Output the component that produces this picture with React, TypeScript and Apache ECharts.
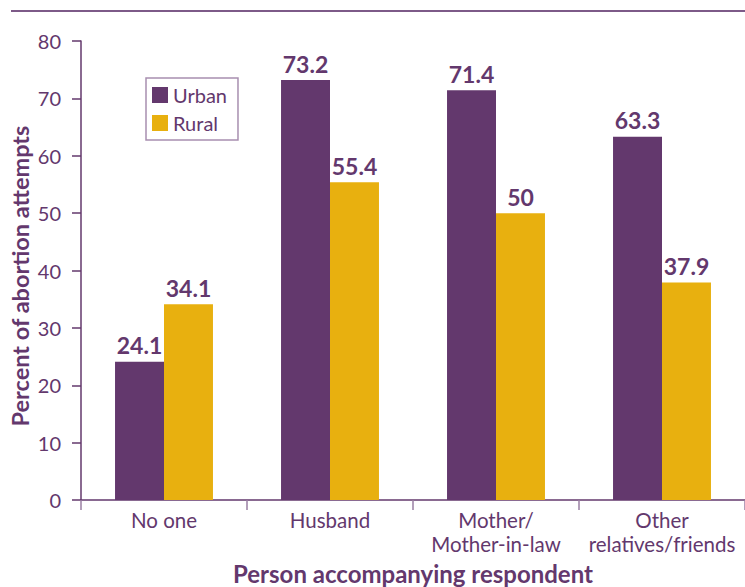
import React, { useEffect, useRef } from "react";
import * as echarts from "echarts";

const categories = ["No one", "Husband", "Mother/\nMother-in-law", "Other\nrelatives/friends"];
const urban = [24.1, 73.2, 71.4, 63.3];
const rural = [34.1, 55.4, 50, 37.9];
const yTicks = [0, 10, 20, 30, 40, 50, 60, 70, 80];
const yTitle = "Percent of abortion attempts";
const xTitle = "Person accompanying respondent";

const PURPLE = "#63386d";
const GOLD = "#e8b00f";
const FONT = "Lato";

export default function App() {
  const ref = useRef<HTMLDivElement>(null);
  useEffect(() => {
    const chart = echarts.init(ref.current!, null, { renderer: "svg" });
    const labelStyle = {
      show: true,
      position: "top" as const,
      color: PURPLE,
      fontFamily: FONT,
      fontWeight: "bold" as const,
      fontSize: 23,
      distance: 5,
    };
    chart.setOption({
      animation: false,
      backgroundColor: "#ffffff",
      textStyle: { fontFamily: FONT, color: PURPLE },
      grid: { left: 81, right: 0, top: 41, bottom: 87, containLabel: false, outerBoundsMode: "none" },
      legend: {
        show: true,
        left: 146,
        top: 78,
        orient: "vertical",
        itemWidth: 16,
        itemHeight: 16,
        itemGap: 8,
        padding: [7, 11, 7, 6],
        borderColor: "#a88fb0",
        borderWidth: 1.5,
        borderRadius: 0,
        icon: "rect",
        textStyle: { color: PURPLE, fontFamily: FONT, fontSize: 20 },
        data: ["Urban", "Rural"],
      },
      graphic: [
        {
          type: "line",
          shape: { x1: 11, y1: 11, x2: 745, y2: 11 },
          style: { stroke: "#7d5a88", lineWidth: 2 },
        },
        {
          type: "text",
          x: 20,
          y: 276,
          rotation: Math.PI / 2,
          style: {
            text: yTitle,
            fill: PURPLE,
            fontFamily: FONT,
            fontWeight: "bold",
            fontSize: 23.5,
            align: "center",
            verticalAlign: "middle",
          },
        },
      ],
      xAxis: {
        type: "category",
        data: categories,
        name: xTitle,
        nameLocation: "middle",
        nameGap: 61,
        nameTextStyle: { color: PURPLE, fontFamily: FONT, fontWeight: "bold", fontSize: 24 },
        axisLine: { show: true, lineStyle: { color: PURPLE, width: 1.5 } },
        axisTick: { show: true, length: 10, alignWithLabel: false, lineStyle: { color: "#9a7fa3", width: 1.5 } },
        axisLabel: { color: PURPLE, fontFamily: FONT, fontSize: 20.5, margin: 8, lineHeight: 24, interval: 0 },
      },
      yAxis: {
        type: "value",
        min: 0,
        max: 80,
        interval: 10,
        axisLine: { show: true, lineStyle: { color: PURPLE, width: 1.5 } },
        axisTick: { show: true, length: 9, lineStyle: { color: PURPLE, width: 1.5 } },
        splitLine: { show: false },
        axisLabel: {
          color: PURPLE,
          fontFamily: FONT,
          fontSize: 20,
          margin: 20,
          formatter: (v: number) => (yTicks.includes(v) ? String(v) : ""),
        },
      },
      series: [
        {
          name: "Urban",
          type: "bar",
          data: urban,
          itemStyle: { color: PURPLE },
          barGap: "0%",
          barCategoryGap: "41%",
          label: labelStyle,
        },
        {
          name: "Rural",
          type: "bar",
          data: rural,
          itemStyle: { color: GOLD },
          barGap: "0%",
          barCategoryGap: "41%",
          label: labelStyle,
        },
      ],
    });
    return () => chart.dispose();
  }, []);
  return (
    <div
      ref={ref}
      style={{ position: "absolute", left: 0, top: 0, width: 745, height: 587 }}
    />
  );
}
